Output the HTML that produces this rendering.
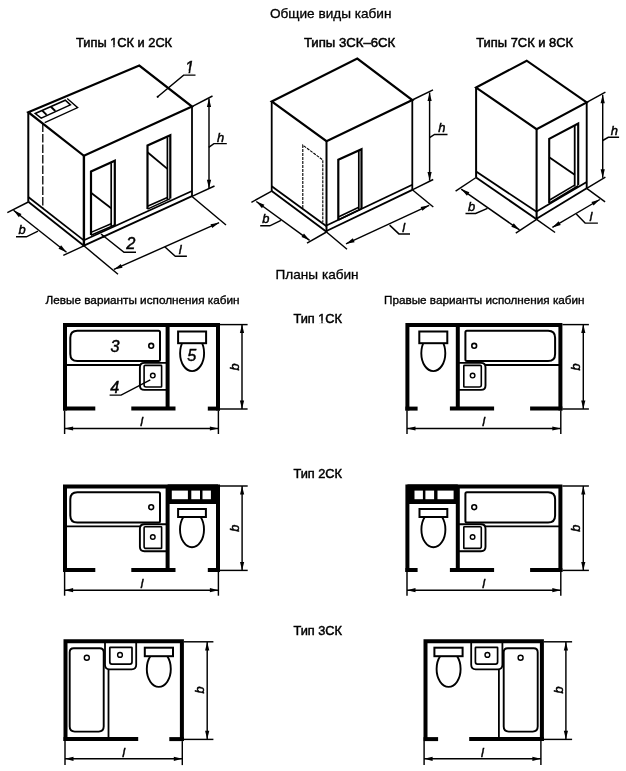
<!DOCTYPE html>
<html lang="ru">
<head>
<meta charset="utf-8">
<title>Общие виды и планы кабин</title>
<style>
html,body{margin:0;padding:0;background:#fff;}
body{width:626px;height:771px;overflow:hidden;}
svg{display:block;will-change:transform;filter:grayscale(1) blur(0.35px);font-family:"Liberation Sans",sans-serif;}
svg .ah{fill:#000;stroke:none;}
svg .wf{fill:#fff;stroke:none;}
svg .bf{fill:#000;stroke:none;}
</style>
</head>
<body>
<svg width="626" height="771" viewBox="0 0 626 771">
<rect x="0" y="0" width="626" height="771" fill="#fff"/>
<g fill="none" stroke="#000" stroke-linecap="butt" stroke-linejoin="miter">
<path d="M28.3 112.2 L139.3 65.6 L192 106.6 L83.9 155.8 Z" stroke-width="2.2" />
<line x1="28.3" y1="112.2" x2="28.3" y2="201.8" stroke-width="2.0" />
<line x1="83.9" y1="155.8" x2="83.9" y2="246.3" stroke-width="2.4" />
<line x1="192" y1="106.6" x2="192" y2="196.5" stroke-width="1.8" />
<line x1="28.3" y1="197" x2="83.9" y2="240.3" stroke-width="1.7" />
<line x1="28.3" y1="201.8" x2="83.9" y2="245.8" stroke-width="1.8" />
<line x1="83.9" y1="240.3" x2="192" y2="191" stroke-width="1.7" />
<line x1="83.9" y1="245.6" x2="192" y2="196.2" stroke-width="1.9" />
<line x1="42.8" y1="123.5" x2="42.8" y2="208" stroke-width="1.3" stroke-dasharray="8.5 2"/>
<path d="M67.2 98.6 L77.7 107.7 L44.7 122.6" stroke-width="1.3" />
<path d="M35.2 113.5 L65.3 100.2 L70.4 104.9 L41.2 118.2 Z" stroke-width="1.5" />
<line x1="42.3" y1="110.6" x2="46.6" y2="114.9" stroke-width="1.9" />
<line x1="50.9" y1="106.8" x2="55.3" y2="111" stroke-width="1.9" />
<path d="M91 235 L91 171.4 L114.8 160.8 L114.8 225.2" stroke-width="2.2" />
<line x1="111.2" y1="163.1" x2="111.2" y2="226.4" stroke-width="1.7" />
<line x1="91" y1="232.4" x2="111.2" y2="223.7" stroke-width="1.5" />
<line x1="91" y1="235.2" x2="114.8" y2="225" stroke-width="1.5" />
<line x1="91" y1="192.8" x2="111.2" y2="208.2" stroke-width="1.8" />
<path d="M147.5 209.1 L147.5 145.5 L170.3 135.3 L170.3 198.6" stroke-width="2.2" />
<line x1="167.4" y1="137.2" x2="167.4" y2="199.8" stroke-width="1.7" />
<line x1="147.5" y1="206.3" x2="167.4" y2="197.5" stroke-width="1.5" />
<line x1="147.5" y1="209.1" x2="170.3" y2="198.6" stroke-width="1.5" />
<line x1="147.5" y1="152.2" x2="167.4" y2="168.9" stroke-width="1.8" />
<line x1="192" y1="106.6" x2="212.5" y2="96" stroke-width="1.45" />
<line x1="192" y1="196.3" x2="214.5" y2="186" stroke-width="1.45" />
<line x1="209" y1="98.5" x2="209" y2="188.3" stroke-width="1.45" />
<path class="ah" d="M209 98.5 L211.1 107 L206.9 107 Z"/>
<path class="ah" d="M209 188.3 L206.9 179.8 L211.1 179.8 Z"/>
<path d="M208.7 147.4 L213.9 143.6 L226.8 143.6" stroke-width="1.45" />
<path d="M157.7 96.8 L183.6 75.1 L195.5 75.1" stroke-width="1.45" />
<circle class="bf" cx="157.7" cy="96.8" r="1.1"/>
<line x1="28.3" y1="202" x2="7.3" y2="212.6" stroke-width="1.45" />
<line x1="83.9" y1="245.8" x2="63.3" y2="255.3" stroke-width="1.45" />
<line x1="13.5" y1="210.3" x2="66.5" y2="252.3" stroke-width="1.45" />
<path class="ah" d="M13.5 210.3 L21.47 213.93 L18.86 217.23 Z"/>
<path class="ah" d="M66.5 252.3 L58.53 248.67 L61.14 245.37 Z"/>
<path d="M16 236.8 L26.4 236.8 L38 231.2" stroke-width="1.45" />
<line x1="83.9" y1="245.8" x2="118" y2="274.3" stroke-width="1.45" />
<line x1="192" y1="196.5" x2="226" y2="225" stroke-width="1.45" />
<line x1="113.9" y1="269.4" x2="219.1" y2="222.7" stroke-width="1.45" />
<path class="ah" d="M113.9 269.4 L120.82 264.03 L122.52 267.87 Z"/>
<path class="ah" d="M219.1 222.7 L212.18 228.07 L210.48 224.23 Z"/>
<path d="M164.7 246.8 L175.3 256.3 L186.9 256.3" stroke-width="1.45" />
<path d="M101 234 L124 252.2 L136 252.2" stroke-width="1.45" />
<path class="ah" d="M101 234 L105.29 235.88 L103.62 237.88 Z"/>
<path d="M271.7 101.4 L357.3 58.6 L412.3 100 L326.5 141.2 Z" stroke-width="2.2" />
<line x1="271.7" y1="101.4" x2="271.7" y2="191.2" stroke-width="1.8" />
<line x1="326.5" y1="141.2" x2="326.5" y2="232" stroke-width="2.0" />
<line x1="412.3" y1="100" x2="412.3" y2="189.8" stroke-width="1.8" />
<line x1="271.7" y1="186.3" x2="326.5" y2="226.3" stroke-width="1.8" />
<line x1="271.7" y1="191.1" x2="326.5" y2="231.7" stroke-width="1.9" />
<line x1="326.5" y1="225.5" x2="412.3" y2="184.7" stroke-width="1.8" />
<line x1="326.5" y1="231" x2="412.3" y2="189.8" stroke-width="1.9" />
<path d="M302.8 207.9 L302.8 145.1 L322.8 160 L322.8 222.3" stroke-width="1.1" stroke-dasharray="3 1"/>
<path d="M338.3 220 L338.3 159.7 L361.5 149.3 L361.5 208.5" stroke-width="2.2" />
<line x1="358.8" y1="151" x2="358.8" y2="209.5" stroke-width="1.7" />
<line x1="338.3" y1="217" x2="358.8" y2="207.3" stroke-width="1.5" />
<line x1="338.3" y1="220" x2="361.5" y2="208.8" stroke-width="1.5" />
<line x1="412.3" y1="100" x2="433" y2="89.8" stroke-width="1.45" />
<line x1="412.3" y1="189.8" x2="433.2" y2="179.5" stroke-width="1.45" />
<line x1="429.6" y1="92.5" x2="429.6" y2="180.6" stroke-width="1.45" />
<path class="ah" d="M429.6 92.5 L431.7 101 L427.5 101 Z"/>
<path class="ah" d="M429.6 180.6 L427.5 172.1 L431.7 172.1 Z"/>
<path d="M429.6 137.6 L434.5 134.5 L447.5 134.5" stroke-width="1.45" />
<line x1="271.7" y1="191.1" x2="251.4" y2="202.3" stroke-width="1.45" />
<line x1="326.5" y1="232" x2="307" y2="243.2" stroke-width="1.45" />
<line x1="256.3" y1="201.5" x2="309.6" y2="240.3" stroke-width="1.45" />
<path class="ah" d="M256.3 201.5 L264.41 204.8 L261.94 208.2 Z"/>
<path class="ah" d="M309.6 240.3 L301.49 237 L303.96 233.6 Z"/>
<path d="M260.2 225.8 L269.8 225.8 L281 220.3" stroke-width="1.45" />
<line x1="326.5" y1="232" x2="347" y2="249.3" stroke-width="1.45" />
<line x1="412.3" y1="189.8" x2="433.3" y2="207" stroke-width="1.45" />
<line x1="346" y1="243.8" x2="429.2" y2="205.3" stroke-width="1.45" />
<path class="ah" d="M346 243.8 L352.83 238.32 L354.6 242.14 Z"/>
<path class="ah" d="M429.2 205.3 L422.37 210.78 L420.6 206.96 Z"/>
<path d="M389.6 225.1 L398.9 233.9 L410 233.9" stroke-width="1.45" />
<path d="M476.1 87.5 L526.7 60.7 L586.7 102.4 L536.6 129.2 Z" stroke-width="2.1" />
<line x1="476.1" y1="87.5" x2="476.1" y2="177.6" stroke-width="2.0" />
<line x1="536.6" y1="129.2" x2="536.6" y2="219.5" stroke-width="2.1" />
<line x1="586.7" y1="102.4" x2="586.7" y2="188.5" stroke-width="1.9" />
<line x1="476.1" y1="171.6" x2="536.6" y2="211.7" stroke-width="1.8" />
<line x1="476.1" y1="177.5" x2="536.6" y2="219.2" stroke-width="1.9" />
<line x1="536.6" y1="211.5" x2="586.7" y2="181.9" stroke-width="1.8" />
<line x1="536.6" y1="218.7" x2="586.7" y2="188.3" stroke-width="1.9" />
<path d="M549.2 203.2 L549.2 138.9 L578.2 123.6 L578.2 185.3" stroke-width="2.1" />
<line x1="574.7" y1="125.8" x2="574.7" y2="186.5" stroke-width="1.8" />
<line x1="549.2" y1="200.3" x2="574.7" y2="185.1" stroke-width="1.6" />
<line x1="549.2" y1="203.2" x2="578.2" y2="185.8" stroke-width="1.6" />
<line x1="549.2" y1="157.2" x2="574.7" y2="174.7" stroke-width="1.9" />
<line x1="586.7" y1="102.4" x2="605.4" y2="92.1" stroke-width="1.45" />
<line x1="586.7" y1="188.3" x2="605.4" y2="177.1" stroke-width="1.45" />
<line x1="602.7" y1="94.8" x2="602.7" y2="177.8" stroke-width="1.45" />
<path class="ah" d="M602.7 94.8 L604.8 103.3 L600.6 103.3 Z"/>
<path class="ah" d="M602.7 177.8 L600.6 169.3 L604.8 169.3 Z"/>
<path d="M602.7 140.5 L608.3 137.3 L619.1 137.3" stroke-width="1.45" />
<line x1="476.1" y1="177.5" x2="455.6" y2="191.2" stroke-width="1.45" />
<line x1="536.6" y1="219.3" x2="515.8" y2="233.1" stroke-width="1.45" />
<line x1="461.2" y1="189.1" x2="519.5" y2="229.9" stroke-width="1.45" />
<path class="ah" d="M461.2 189.1 L469.37 192.25 L466.96 195.69 Z"/>
<path class="ah" d="M519.5 229.9 L511.33 226.75 L513.74 223.31 Z"/>
<path d="M465.5 213.4 L475.6 213.4 L487.5 208.3" stroke-width="1.45" />
<line x1="536.6" y1="219.3" x2="555.1" y2="232.5" stroke-width="1.45" />
<line x1="586.7" y1="188.3" x2="605.1" y2="201.8" stroke-width="1.45" />
<line x1="552.4" y1="227.4" x2="599.8" y2="199.5" stroke-width="1.45" />
<path class="ah" d="M552.4 227.4 L558.66 221.28 L560.79 224.9 Z"/>
<path class="ah" d="M599.8 199.5 L593.54 205.62 L591.41 202 Z"/>
<path d="M576.3 213.9 L585.1 223.1 L597.9 223.1" stroke-width="1.45" />
<line x1="65" y1="365" x2="141" y2="365" stroke-width="1.9" />
<path d="M77.3 330.8 L158.5 330.8 Q160 330.8 160 332.3 L160 359.5 Q160 361 158.5 361 L77.3 361 Q70.3 361 70.3 354 L70.3 337.8 Q70.3 330.8 77.3 330.8 Z" stroke-width="2.0"/>
<circle cx="151.2" cy="345.8" r="2.4" stroke-width="1.6"/>
<path d="M167.6 362.9 L144.4 362.9 Q139.9 362.9 139.9 367.4 L139.9 385.4 Q139.9 389.9 144.4 389.9 L167.6 389.9" stroke-width="1.9" fill="#fff"/>
<path d="M145.1 365.4 L161.1 365.4 Q161.6 365.4 161.6 365.9 L161.6 386.5 Q161.6 387 161.1 387 L146.1 387 Q144.1 387 144.1 385 L144.1 366.4 Q144.1 365.4 145.1 365.4 Z" stroke-width="1.6"/>
<circle cx="152.8" cy="375.6" r="2.3" stroke-width="1.4"/>
<ellipse cx="192.1" cy="353.2" rx="12" ry="17.9" stroke-width="1.9"/>
<rect x="178.1" y="331.5" width="28" height="11.7" rx="0" stroke-width="2.0" fill="#fff"/>
<path d="M65 410.6 L65 325 L218 325 L218 410.6" stroke-width="4.0" />
<line x1="63" y1="408.6" x2="95.3" y2="408.6" stroke-width="4.0" />
<line x1="131.3" y1="408.6" x2="175.5" y2="408.6" stroke-width="4.0" />
<line x1="207.8" y1="408.6" x2="220" y2="408.6" stroke-width="4.0" />
<line x1="167.6" y1="325" x2="167.6" y2="408.6" stroke-width="4.0" />
<line x1="220" y1="324.6" x2="247.6" y2="324.6" stroke-width="1.45" />
<line x1="220" y1="409" x2="247.6" y2="409" stroke-width="1.45" />
<line x1="242" y1="324.6" x2="242" y2="409" stroke-width="1.45" />
<path class="ah" d="M242 324.6 L244.1 333.1 L239.9 333.1 Z"/>
<path class="ah" d="M242 409 L239.9 400.5 L244.1 400.5 Z"/>
<line x1="64.6" y1="410.6" x2="64.6" y2="434" stroke-width="1.45" />
<line x1="218.4" y1="410.6" x2="218.4" y2="434" stroke-width="1.45" />
<line x1="64.6" y1="428.5" x2="218.4" y2="428.5" stroke-width="1.45" />
<path class="ah" d="M64.6 428.5 L73.1 426.4 L73.1 430.6 Z"/>
<path class="ah" d="M218.4 428.5 L209.9 430.6 L209.9 426.4 Z"/>
<line x1="560.4" y1="365" x2="484.4" y2="365" stroke-width="1.9" />
<path d="M466.9 330.8 L548.1 330.8 Q555.1 330.8 555.1 337.8 L555.1 354 Q555.1 361 548.1 361 L466.9 361 Q465.4 361 465.4 359.5 L465.4 332.3 Q465.4 330.8 466.9 330.8 Z" stroke-width="2.0"/>
<circle cx="474.2" cy="345.8" r="2.4" stroke-width="1.6"/>
<path d="M457.8 362.9 L481 362.9 Q485.5 362.9 485.5 367.4 L485.5 385.4 Q485.5 389.9 481 389.9 L457.8 389.9" stroke-width="1.9" fill="#fff"/>
<path d="M464.3 365.4 L480.3 365.4 Q481.3 365.4 481.3 366.4 L481.3 385 Q481.3 387 479.3 387 L464.3 387 Q463.8 387 463.8 386.5 L463.8 365.9 Q463.8 365.4 464.3 365.4 Z" stroke-width="1.6"/>
<circle cx="472.6" cy="375.6" r="2.3" stroke-width="1.4"/>
<ellipse cx="433.3" cy="353.2" rx="12" ry="17.9" stroke-width="1.9"/>
<rect x="419.3" y="331.5" width="28" height="11.7" rx="0" stroke-width="2.0" fill="#fff"/>
<path d="M560.4 410.6 L560.4 325 L407.4 325 L407.4 410.6" stroke-width="4.0" />
<line x1="562.4" y1="408.6" x2="530.1" y2="408.6" stroke-width="4.0" />
<line x1="494.1" y1="408.6" x2="449.9" y2="408.6" stroke-width="4.0" />
<line x1="417.6" y1="408.6" x2="405.4" y2="408.6" stroke-width="4.0" />
<line x1="457.8" y1="325" x2="457.8" y2="408.6" stroke-width="4.0" />
<line x1="562.4" y1="324.6" x2="588.9" y2="324.6" stroke-width="1.45" />
<line x1="562.4" y1="409" x2="588.9" y2="409" stroke-width="1.45" />
<line x1="583.3" y1="324.6" x2="583.3" y2="409" stroke-width="1.45" />
<path class="ah" d="M583.3 324.6 L585.4 333.1 L581.2 333.1 Z"/>
<path class="ah" d="M583.3 409 L581.2 400.5 L585.4 400.5 Z"/>
<line x1="407" y1="410.6" x2="407" y2="434" stroke-width="1.45" />
<line x1="560.8" y1="410.6" x2="560.8" y2="434" stroke-width="1.45" />
<line x1="407" y1="428.5" x2="560.8" y2="428.5" stroke-width="1.45" />
<path class="ah" d="M407 428.5 L415.5 426.4 L415.5 430.6 Z"/>
<path class="ah" d="M560.8 428.5 L552.3 430.6 L552.3 426.4 Z"/>
<line x1="65" y1="526.4" x2="141" y2="526.4" stroke-width="1.9" />
<path d="M77.3 492.2 L158.5 492.2 Q160 492.2 160 493.7 L160 520.9 Q160 522.4 158.5 522.4 L77.3 522.4 Q70.3 522.4 70.3 515.4 L70.3 499.2 Q70.3 492.2 77.3 492.2 Z" stroke-width="2.0"/>
<circle cx="151.2" cy="507.2" r="2.4" stroke-width="1.6"/>
<path d="M167.6 524.3 L144.4 524.3 Q139.9 524.3 139.9 528.8 L139.9 546.8 Q139.9 551.3 144.4 551.3 L167.6 551.3" stroke-width="1.9" fill="#fff"/>
<path d="M145.1 526.8 L161.1 526.8 Q161.6 526.8 161.6 527.3 L161.6 547.9 Q161.6 548.4 161.1 548.4 L146.1 548.4 Q144.1 548.4 144.1 546.4 L144.1 527.8 Q144.1 526.8 145.1 526.8 Z" stroke-width="1.6"/>
<circle cx="152.8" cy="537" r="2.3" stroke-width="1.4"/>
<ellipse cx="192" cy="529.4" rx="12" ry="17.9" stroke-width="1.9"/>
<rect x="178.1" y="509" width="27.8" height="8" rx="0" stroke-width="2.0" fill="#fff"/>
<rect class="bf" x="167.6" y="484.4" width="50.4" height="19.6"/>
<rect class="wf" x="171.8" y="490.6" width="16.1" height="8.6"/>
<rect class="wf" x="191.3" y="490.6" width="8.7" height="8.6"/>
<rect class="wf" x="202.5" y="490.6" width="8.4" height="8.6"/>
<path d="M65 572 L65 486.4 L218 486.4 L218 572" stroke-width="4.0" />
<line x1="63" y1="570" x2="95.3" y2="570" stroke-width="4.0" />
<line x1="131.3" y1="570" x2="175.5" y2="570" stroke-width="4.0" />
<line x1="207.8" y1="570" x2="220" y2="570" stroke-width="4.0" />
<line x1="167.6" y1="486.4" x2="167.6" y2="570" stroke-width="4.0" />
<line x1="220" y1="486" x2="247.7" y2="486" stroke-width="1.45" />
<line x1="220" y1="570.4" x2="247.7" y2="570.4" stroke-width="1.45" />
<line x1="242.1" y1="486" x2="242.1" y2="570.4" stroke-width="1.45" />
<path class="ah" d="M242.1 486 L244.2 494.5 L240 494.5 Z"/>
<path class="ah" d="M242.1 570.4 L240 561.9 L244.2 561.9 Z"/>
<line x1="64.6" y1="572" x2="64.6" y2="595.7" stroke-width="1.45" />
<line x1="218.4" y1="572" x2="218.4" y2="595.7" stroke-width="1.45" />
<line x1="64.6" y1="590.2" x2="218.4" y2="590.2" stroke-width="1.45" />
<path class="ah" d="M64.6 590.2 L73.1 588.1 L73.1 592.3 Z"/>
<path class="ah" d="M218.4 590.2 L209.9 592.3 L209.9 588.1 Z"/>
<line x1="560.4" y1="526.4" x2="484.4" y2="526.4" stroke-width="1.9" />
<path d="M466.9 492.2 L548.1 492.2 Q555.1 492.2 555.1 499.2 L555.1 515.4 Q555.1 522.4 548.1 522.4 L466.9 522.4 Q465.4 522.4 465.4 520.9 L465.4 493.7 Q465.4 492.2 466.9 492.2 Z" stroke-width="2.0"/>
<circle cx="474.2" cy="507.2" r="2.4" stroke-width="1.6"/>
<path d="M457.8 524.3 L481 524.3 Q485.5 524.3 485.5 528.8 L485.5 546.8 Q485.5 551.3 481 551.3 L457.8 551.3" stroke-width="1.9" fill="#fff"/>
<path d="M464.3 526.8 L480.3 526.8 Q481.3 526.8 481.3 527.8 L481.3 546.4 Q481.3 548.4 479.3 548.4 L464.3 548.4 Q463.8 548.4 463.8 547.9 L463.8 527.3 Q463.8 526.8 464.3 526.8 Z" stroke-width="1.6"/>
<circle cx="472.6" cy="537" r="2.3" stroke-width="1.4"/>
<ellipse cx="433.4" cy="529.4" rx="12" ry="17.9" stroke-width="1.9"/>
<rect x="419.5" y="509" width="27.8" height="8" rx="0" stroke-width="2.0" fill="#fff"/>
<rect class="bf" x="407.4" y="484.4" width="50.4" height="19.6"/>
<rect class="wf" x="437.5" y="490.6" width="16.1" height="8.6"/>
<rect class="wf" x="425.4" y="490.6" width="8.7" height="8.6"/>
<rect class="wf" x="414.5" y="490.6" width="8.4" height="8.6"/>
<path d="M560.4 572 L560.4 486.4 L407.4 486.4 L407.4 572" stroke-width="4.0" />
<line x1="562.4" y1="570" x2="530.1" y2="570" stroke-width="4.0" />
<line x1="494.1" y1="570" x2="449.9" y2="570" stroke-width="4.0" />
<line x1="417.6" y1="570" x2="405.4" y2="570" stroke-width="4.0" />
<line x1="457.8" y1="486.4" x2="457.8" y2="570" stroke-width="4.0" />
<line x1="562.4" y1="486" x2="588.9" y2="486" stroke-width="1.45" />
<line x1="562.4" y1="570.4" x2="588.9" y2="570.4" stroke-width="1.45" />
<line x1="583.3" y1="486" x2="583.3" y2="570.4" stroke-width="1.45" />
<path class="ah" d="M583.3 486 L585.4 494.5 L581.2 494.5 Z"/>
<path class="ah" d="M583.3 570.4 L581.2 561.9 L585.4 561.9 Z"/>
<line x1="407" y1="572" x2="407" y2="595.7" stroke-width="1.45" />
<line x1="560.8" y1="572" x2="560.8" y2="595.7" stroke-width="1.45" />
<line x1="407" y1="590.2" x2="560.8" y2="590.2" stroke-width="1.45" />
<path class="ah" d="M407 590.2 L415.5 588.1 L415.5 592.3 Z"/>
<path class="ah" d="M560.8 590.2 L552.3 592.3 L552.3 588.1 Z"/>
<path d="M109.6 395.1 L121.1 395.1 L150.3 379.8" stroke-width="1.45" />
<path d="M73.7 648.2 L99.7 648.2 Q103.7 648.2 103.7 652.2 L103.7 726.6 Q103.7 731.6 98.7 731.6 L74.7 731.6 Q69.7 731.6 69.7 726.6 L69.7 652.2 Q69.7 648.2 73.7 648.2 Z" stroke-width="1.9"/>
<circle cx="86.8" cy="657.8" r="2.5" stroke-width="1.4"/>
<line x1="108.5" y1="668" x2="108.5" y2="739.1" stroke-width="1.8" />
<path d="M105 641.3 L105 664.8 Q105 669.3 109.5 669.3 L131.7 669.3 Q136.2 669.3 136.2 664.8 L136.2 641.3" stroke-width="1.8" fill="#fff"/>
<path d="M110.3 647.3 L131.5 647.3 Q132 647.3 132 647.8 L132 662.1 Q132 664.1 130 664.1 L111.8 664.1 Q109.8 664.1 109.8 662.1 L109.8 647.8 Q109.8 647.3 110.3 647.3 Z" stroke-width="1.7"/>
<circle cx="120" cy="654.9" r="2.4" stroke-width="1.4"/>
<ellipse cx="158.8" cy="669" rx="12" ry="17.9" stroke-width="1.9"/>
<rect x="144.8" y="647.7" width="28.2" height="8.5" rx="0" stroke-width="2.0" fill="#fff"/>
<path d="M65.5 741.1 L65.5 641.3 L181.9 641.3 L181.9 741.1" stroke-width="4.0" />
<line x1="63.5" y1="739.1" x2="138.2" y2="739.1" stroke-width="4.0" />
<line x1="169.3" y1="739.1" x2="183.9" y2="739.1" stroke-width="4.0" />
<line x1="183.9" y1="641.8" x2="213.4" y2="641.8" stroke-width="1.45" />
<line x1="183.9" y1="739.4" x2="213.4" y2="739.4" stroke-width="1.45" />
<line x1="207.2" y1="641.9" x2="207.2" y2="739.3" stroke-width="1.45" />
<path class="ah" d="M207.2 641.9 L209.3 650.4 L205.1 650.4 Z"/>
<path class="ah" d="M207.2 739.3 L205.1 730.8 L209.3 730.8 Z"/>
<line x1="65" y1="741.1" x2="65" y2="765.1" stroke-width="1.45" />
<line x1="182.3" y1="741.1" x2="182.3" y2="765.1" stroke-width="1.45" />
<line x1="65" y1="758.8" x2="182.3" y2="758.8" stroke-width="1.45" />
<path class="ah" d="M65 758.8 L73.5 756.7 L73.5 760.9 Z"/>
<path class="ah" d="M182.3 758.8 L173.8 760.9 L173.8 756.7 Z"/>
<path d="M507.7 648.2 L533.7 648.2 Q537.7 648.2 537.7 652.2 L537.7 726.6 Q537.7 731.6 532.7 731.6 L508.7 731.6 Q503.7 731.6 503.7 726.6 L503.7 652.2 Q503.7 648.2 507.7 648.2 Z" stroke-width="1.9"/>
<circle cx="520.6" cy="657.8" r="2.5" stroke-width="1.4"/>
<line x1="498.9" y1="668" x2="498.9" y2="739.1" stroke-width="1.8" />
<path d="M471.2 641.3 L471.2 664.8 Q471.2 669.3 475.7 669.3 L497.9 669.3 Q502.4 669.3 502.4 664.8 L502.4 641.3" stroke-width="1.8" fill="#fff"/>
<path d="M475.9 647.3 L497.1 647.3 Q497.6 647.3 497.6 647.8 L497.6 662.1 Q497.6 664.1 495.6 664.1 L477.4 664.1 Q475.4 664.1 475.4 662.1 L475.4 647.8 Q475.4 647.3 475.9 647.3 Z" stroke-width="1.7"/>
<circle cx="487.4" cy="654.9" r="2.4" stroke-width="1.4"/>
<ellipse cx="448.6" cy="669" rx="12" ry="17.9" stroke-width="1.9"/>
<rect x="434.4" y="647.7" width="28.2" height="8.5" rx="0" stroke-width="2.0" fill="#fff"/>
<path d="M541.9 741.1 L541.9 641.3 L425.5 641.3 L425.5 741.1" stroke-width="4.0" />
<line x1="543.9" y1="739.1" x2="469.2" y2="739.1" stroke-width="4.0" />
<line x1="438.1" y1="739.1" x2="423.5" y2="739.1" stroke-width="4.0" />
<line x1="543.9" y1="641.8" x2="572.1" y2="641.8" stroke-width="1.45" />
<line x1="543.9" y1="739.4" x2="572.1" y2="739.4" stroke-width="1.45" />
<line x1="565.9" y1="641.9" x2="565.9" y2="739.3" stroke-width="1.45" />
<path class="ah" d="M565.9 641.9 L568 650.4 L563.8 650.4 Z"/>
<path class="ah" d="M565.9 739.3 L563.8 730.8 L568 730.8 Z"/>
<line x1="424.1" y1="741.1" x2="424.1" y2="765.1" stroke-width="1.45" />
<line x1="540.9" y1="741.1" x2="540.9" y2="765.1" stroke-width="1.45" />
<line x1="424.1" y1="758.8" x2="540.9" y2="758.8" stroke-width="1.45" />
<path class="ah" d="M424.1 758.8 L432.6 756.7 L432.6 760.9 Z"/>
<path class="ah" d="M540.9 758.8 L532.4 760.9 L532.4 756.7 Z"/>
</g>
<g fill="#000">
<text x="269.9" y="18.3" font-size="13.5" textLength="121.6" lengthAdjust="spacingAndGlyphs" stroke="#000" stroke-width="0.3" >Общие виды кабин</text>
<text x="76.1" y="47" font-size="12.9" textLength="96" lengthAdjust="spacingAndGlyphs" stroke="#000" stroke-width="0.5" >Типы 1СК и 2СК</text>
<text x="303.9" y="47.2" font-size="12.9" textLength="91.3" lengthAdjust="spacingAndGlyphs" stroke="#000" stroke-width="0.5" >Типы 3СК–6СК</text>
<text x="476.3" y="47.2" font-size="12.9" textLength="96.8" lengthAdjust="spacingAndGlyphs" stroke="#000" stroke-width="0.5" >Типы 7СК и 8СК</text>
<text x="275.6" y="279.2" font-size="13.5" textLength="83" lengthAdjust="spacingAndGlyphs" stroke="#000" stroke-width="0.3" >Планы кабин</text>
<text x="45.5" y="303.5" font-size="11.8" textLength="194" lengthAdjust="spacingAndGlyphs" stroke="#000" stroke-width="0.35" >Левые варианты исполнения кабин</text>
<text x="384" y="303.5" font-size="11.8" textLength="200.5" lengthAdjust="spacingAndGlyphs" stroke="#000" stroke-width="0.35" >Правые варианты исполнения кабин</text>
<text x="293.4" y="322.5" font-size="13" textLength="48.6" lengthAdjust="spacingAndGlyphs" stroke="#000" stroke-width="0.5" >Тип 1СК</text>
<text x="293.4" y="477.5" font-size="13" textLength="48.6" lengthAdjust="spacingAndGlyphs" stroke="#000" stroke-width="0.5" >Тип 2СК</text>
<text x="293.4" y="634.8" font-size="13" textLength="48.6" lengthAdjust="spacingAndGlyphs" stroke="#000" stroke-width="0.5" >Тип 3СК</text>
<text x="217" y="141.6" font-size="12.9" font-style="italic" stroke="#000" stroke-width="0.45" >h</text>
<text x="185.1" y="72.6" font-size="16.5" font-style="italic" stroke="#000" stroke-width="0.45">1</text>
<text x="18.6" y="234.2" font-size="12.9" font-style="italic" stroke="#000" stroke-width="0.45" >b</text>
<text x="178.7" y="254" font-size="12.9" font-style="italic" stroke="#000" stroke-width="0.45" >l</text>
<text x="126.3" y="249.2" font-size="16.5" font-style="italic" stroke="#000" stroke-width="0.45">2</text>
<text x="438.3" y="132.4" font-size="12.9" font-style="italic" stroke="#000" stroke-width="0.45" >h</text>
<text x="262.3" y="223.2" font-size="12.9" font-style="italic" stroke="#000" stroke-width="0.45" >b</text>
<text x="402.3" y="231.6" font-size="12.9" font-style="italic" stroke="#000" stroke-width="0.45" >l</text>
<text x="610.7" y="135" font-size="12.9" font-style="italic" stroke="#000" stroke-width="0.45" >h</text>
<text x="468" y="210.7" font-size="12.9" font-style="italic" stroke="#000" stroke-width="0.45" >b</text>
<text x="589.5" y="220.8" font-size="12.9" font-style="italic" stroke="#000" stroke-width="0.45" >l</text>
<text font-size="12.9" font-style="italic" stroke="#000" stroke-width="0.45" text-anchor="middle" transform="translate(238.6,366.8) rotate(-90)">b</text>
<text x="141.8" y="426.2" font-size="12.9" text-anchor="middle" font-style="italic" stroke="#000" stroke-width="0.45" >l</text>
<text font-size="12.9" font-style="italic" stroke="#000" stroke-width="0.45" text-anchor="middle" transform="translate(579.9,366.8) rotate(-90)">b</text>
<text x="483.7" y="426.2" font-size="12.9" text-anchor="middle" font-style="italic" stroke="#000" stroke-width="0.45" >l</text>
<text font-size="12.9" font-style="italic" stroke="#000" stroke-width="0.45" text-anchor="middle" transform="translate(238.7,528.2) rotate(-90)">b</text>
<text x="141.9" y="587.9" font-size="12.9" text-anchor="middle" font-style="italic" stroke="#000" stroke-width="0.45" >l</text>
<text font-size="12.9" font-style="italic" stroke="#000" stroke-width="0.45" text-anchor="middle" transform="translate(579.9,528.2) rotate(-90)">b</text>
<text x="483.7" y="587.9" font-size="12.9" text-anchor="middle" font-style="italic" stroke="#000" stroke-width="0.45" >l</text>
<text x="110.5" y="351.5" font-size="16.2" font-style="italic" stroke="#000" stroke-width="0.45" >3</text>
<text x="110.3" y="392.8" font-size="16.2" font-style="italic" stroke="#000" stroke-width="0.45" >4</text>
<text x="187.3" y="361.2" font-size="16.2" font-style="italic" stroke="#000" stroke-width="0.45" >5</text>
<text font-size="12.9" font-style="italic" stroke="#000" stroke-width="0.45" text-anchor="middle" transform="translate(204,689.9) rotate(-90)">b</text>
<text x="123.8" y="756.5" font-size="12.9" text-anchor="middle" font-style="italic" stroke="#000" stroke-width="0.45" >l</text>
<text font-size="12.9" font-style="italic" stroke="#000" stroke-width="0.45" text-anchor="middle" transform="translate(562.7,689.9) rotate(-90)">b</text>
<text x="482.5" y="756.5" font-size="12.9" text-anchor="middle" font-style="italic" stroke="#000" stroke-width="0.45" >l</text>
</g>
<g>
<path class="wf" d="M183.9 73.8 L188.26 73.8 L188.97 70.47 L183.9 70.47 Z"/>
<path class="wf" d="M189.98 73.8 L194.36 73.8 L194.36 70.47 L190.69 70.47 Z"/>
<path class="wf" d="M109.81 48.2 L113.32 48.2 L113.32 45.14 L109.81 45.14 Z"/>
<path class="wf" d="M114.64 48.2 L117.83 48.2 L117.83 45.14 L114.64 45.14 Z"/>
<path class="wf" d="M317.85 323.7 L321.35 323.7 L321.35 320.65 L317.85 320.65 Z"/>
<path class="wf" d="M322.66 323.7 L325.84 323.7 L325.84 320.65 L322.66 320.65 Z"/>
</g>
</svg>
</body>
</html>
